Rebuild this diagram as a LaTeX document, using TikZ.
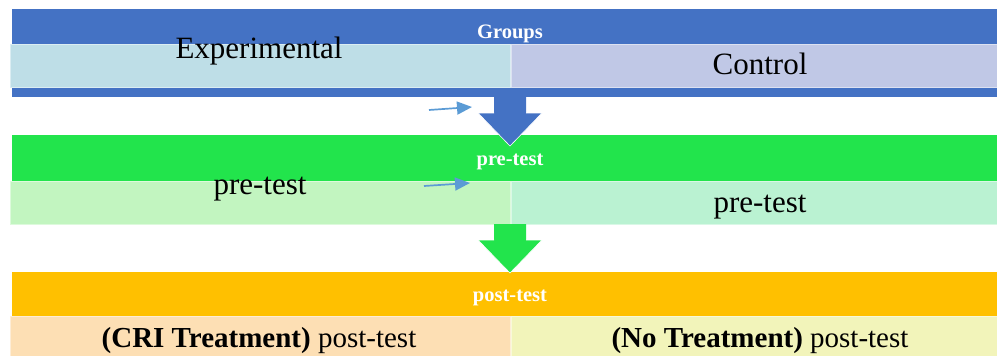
\documentclass[tikz,border=0pt]{standalone}
\usepackage{fontspec}
\setmainfont{Liberation Serif}
\usetikzlibrary{arrows.meta,positioning}
\definecolor{grpblue}{RGB}{68,114,196}
\definecolor{expfill}{RGB}{190,222,231}
\definecolor{ctlfill}{RGB}{192,200,230}
\definecolor{pregreen}{RGB}{34,228,76}
\definecolor{prelft}{RGB}{194,245,192}
\definecolor{prergt}{RGB}{186,242,210}
\definecolor{postorange}{RGB}{255,192,0}
\definecolor{postlft}{RGB}{253,223,180}
\definecolor{postrgt}{RGB}{242,244,186}
\definecolor{pointer}{RGB}{91,155,213}
% block arrow: colour, top y
\newcommand{\downblock}[2]{%
  \fill[#1,shift={(510,#2)}] (-16,0) -- (16,0) -- (16,16) -- (32,16) -- (0,49)
       -- (-32,16) -- (-16,16) -- cycle;
  \draw[white,line width=0.6pt,shift={(510,#2)}] (16,16) -- (32,16) -- (0,49)
       -- (-32,16) -- (-16,16);}

\begin{document}
\begin{tikzpicture}[x=1pt,y=-1pt,>=Stealth,node distance=0pt,
  band/.style={rectangle,inner sep=0pt,minimum width=985pt,anchor=north west},
  cell/.style={rectangle,inner sep=0pt,fill=#1,draw=white!45!#1,line width=0.6pt},
  head/.style={inner sep=0pt,anchor=base,text=white,
               font=\bfseries\fontsize{20.5}{20.5}\selectfont},
  txt/.style={inner sep=0pt,anchor=base,font=\fontsize{31}{31}\selectfont},
  ptr/.style={draw=pointer,line width=1.7pt,-{Triangle[length=15pt,width=13pt]}}]
  \useasboundingbox (0,0) rectangle (997,356);
  % groups
  \node[band,fill=grpblue,minimum height=88pt] (grp) at (12,9) {};
  \node[cell=expfill,minimum width=500pt,minimum height=43pt,anchor=north west]
       (exp) at (10,44) {};
  \node[cell=ctlfill,minimum width=487pt,minimum height=43pt,right=of exp] (ctl) {};
  % pre-test
  \node[band,fill=pregreen,minimum height=46pt] (pre) at (12,135) {};
  \node[cell=prelft,minimum width=500pt,minimum height=43pt,anchor=north west]
       (prel) at (10,181) {};
  \node[cell=prergt,minimum width=487pt,minimum height=43pt,right=of prel] (prer) {};
  % post-test
  \node[band,fill=postorange,minimum height=44pt] (post) at (12,272) {};
  \node[cell=postlft,minimum width=500pt,minimum height=40pt,anchor=north west]
       (postl) at (10,316) {};
  \node[cell=postrgt,minimum width=487pt,minimum height=40pt,right=of postl] (postr) {};
  \downblock{grpblue}{97}
  \downblock{pregreen}{224}
  % labels
  \node[head] (grplbl) at (510,38) {Groups};
  \node[head] (prelbl) at (510,165) {pre-test};
  \node[head] (postlbl) at (510,301) {post-test};
  \node[txt] (exptxt) at (259,58) {Experimental};
  \node[txt] (ctltxt) at (760,74) {Control};
  \node[txt] (preltxt) at (260,194) {pre-test};
  \node[txt] (prertxt) at (760,212) {pre-test};
  \node[txt,font=\fontsize{29}{29}\selectfont] (postltxt) at (259,347)
       {\textbf{(CRI Treatment)} post-test};
  \node[txt,font=\fontsize{29}{29}\selectfont] (postrtxt) at (760,347)
       {\textbf{(No Treatment)} post-test};
  % pointers
  \coordinate (p1a) at (429,110); \coordinate (p1b) at (472,107);
  \coordinate (p2a) at (424,186); \coordinate (p2b) at (470,183);
  \draw[ptr] (p1a) -- (p1b);
  \draw[ptr] (p2a) -- (p2b);
\end{tikzpicture}
\end{document}
